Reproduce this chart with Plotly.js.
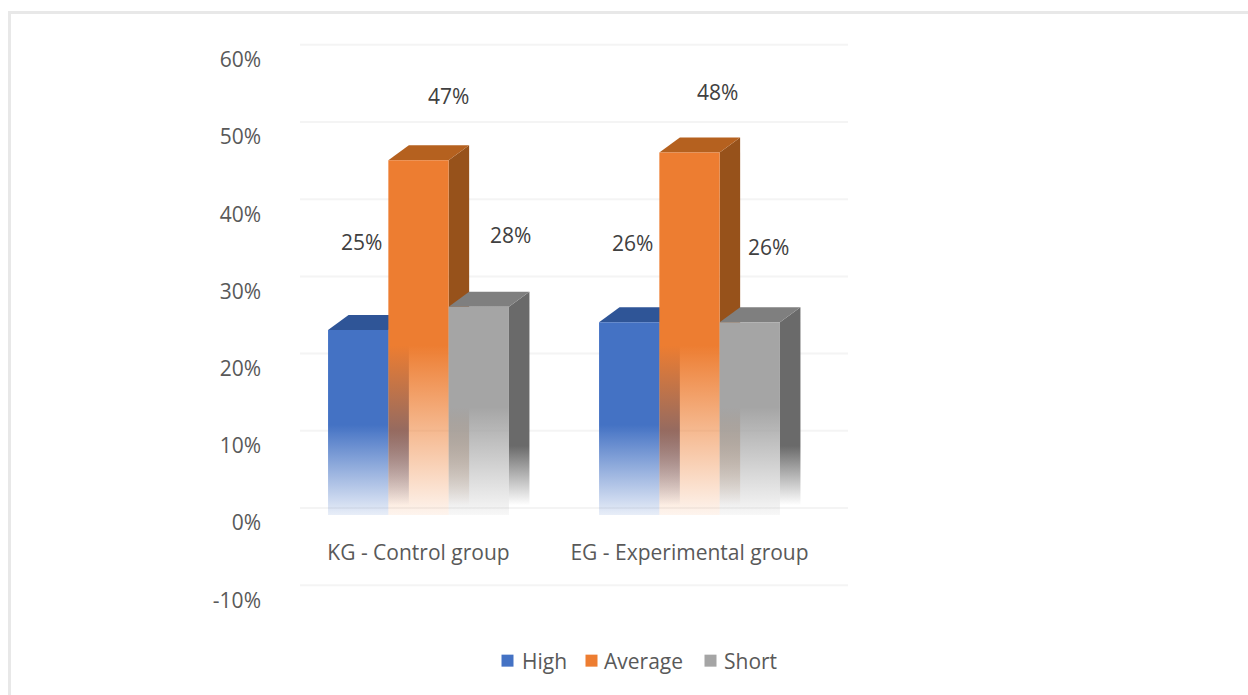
<!DOCTYPE html>
<html><head><meta charset="utf-8">
<script src="https://cdn.plot.ly/plotly-3.0.1.min.js"></script>
<style>
html,body{margin:0;padding:0;background:#fff;width:1248px;height:695px;overflow:hidden}
#frame{position:absolute;left:8px;top:11px;right:-10px;bottom:-10px;border:3px solid #e8e8e8}
#chart{position:absolute;left:0;top:0;width:1248px;height:695px}
</style></head><body>
<div id="frame"></div><div id="chart"></div>
<script>
// ---- data ----
const categories = ['KG - Control group', 'EG - Experimental group'];
const seriesNames = ['High', 'Average', 'Short'];
const high = [25, 26];
const average = [47, 48];
const short = [28, 26];
const yTickVals = [-10, 0, 10, 20, 30, 40, 50, 60];
const yTickText = ['-10%', '0%', '10%', '20%', '30%', '40%', '50%', '60%'];

// ---- styling ----
const values = [high, average, short];
const frontColors = ['#4472C4', '#ED7D31', '#A5A5A5'];
const topColors = ['#2F5597', '#B5611F', '#7F7F7F'];
const sideColors = ['#2F5597', '#97521B', '#6A6A6A'];
// value where the front fades start, and where the fade ends
const fadeStart = [12.7, 23, 15];
const fadeEnd = 1.0, fadeEndAlpha = [0.12, 0.08, 0.08];
const sideFadeStart = [12, 20, 10], sideFadeEnd = 2.3;

// label shifts in px per series, per group
const labelDx = [[3, 30, 32], [3, 28, 19]];
const labelDy = [[88, 64, 72], [79, 60, 75]];

// legend placement in px
const legendTextX = [522, 604, 724];
const legendSwatchX = [507.5, 591.5, 710.5];

// geometry
const W = 1248, H = 695;
const L = 262, R = 860, T = 30, B = 640;
const pxGroup = 271, x0Px = 418.5, pxUnit = 7.72, y0Px = 523;
const xRange = [(L - x0Px) / pxGroup, (R - x0Px) / pxGroup];
const yRange = [(y0Px - B) / pxUnit, (y0Px - T) / pxUnit];
const barW = 60.3 / pxGroup;
const dx = 20.5 / pxGroup, dy = 15 / pxUnit;
const groups = categories.map((c, i) => i);

const traces = seriesNames.map((n, s) => ({
  type: 'bar', name: n, x: groups, y: values[s],
  marker: {color: frontColors[s], line: {width: 0}},
  hoverinfo: 'skip'
}));

const shapes = [];
yTickVals.forEach(v => shapes.push({
  type: 'line', layer: 'below', xref: 'x', yref: 'y',
  x0: (300 - x0Px) / pxGroup, x1: (848 - x0Px) / pxGroup, y0: v + dy, y1: v + dy,
  line: {color: '#f4f4f4', width: 2}
}));
const sideInfo = [];
groups.forEach(g => seriesNames.forEach((n, s) => {
  const v = values[s][g];
  const xl = g + (s - 1.5) * barW, xr = xl + barW;
  shapes.push({type: 'path', layer: 'below', xref: 'x', yref: 'y', line: {width: 0},
    fillcolor: sideColors[s],
    path: `M ${xr} ${v} L ${xr + dx} ${v + dy} L ${xr + dx} ${dy} L ${xr} 0 Z`});
  sideInfo.push({idx: shapes.length - 1, s, v});
  shapes.push({type: 'path', layer: 'below', xref: 'x', yref: 'y', line: {width: 0},
    fillcolor: topColors[s],
    path: `M ${xl} ${v} L ${xl + dx} ${v + dy} L ${xr + dx} ${v + dy} L ${xr} ${v} Z`});
}));

const annotations = [];
groups.forEach(g => seriesNames.forEach((n, s) => {
  annotations.push({
    x: g + (s - 1) * barW, y: values[s][g], xref: 'x', yref: 'y',
    text: values[s][g] + '%', showarrow: false,
    xshift: labelDx[g][s], yshift: labelDy[g][s],
    font: {family: 'Open Sans', size: 21, color: '#404040'}
  });
}));

const layout = {
  width: W, height: H,
  margin: {l: L, r: W - R, t: T, b: H - B, pad: 0},
  paper_bgcolor: 'rgba(0,0,0,0)', plot_bgcolor: 'rgba(0,0,0,0)',
  barmode: 'group', bargap: 1 - 3 * barW, bargroupgap: 0,
  showlegend: true,
  legend: {orientation: 'h', xref: 'paper', yref: 'paper', x: 0.63, xanchor: 'center',
    y: (B - 661) / (B - T), yanchor: 'middle',
    font: {family: 'Open Sans', size: 21, color: '#595959'}, bgcolor: 'rgba(0,0,0,0)', itemclick: false},
  xaxis: {type: 'linear', range: xRange, tickmode: 'array', tickvals: groups, ticktext: categories,
    showgrid: false, zeroline: false, showline: false, ticks: '',
    anchor: 'free', position: (B - 538) / (B - T),
    tickfont: {family: 'Open Sans', size: 21, color: '#595959'}, fixedrange: true},
  yaxis: {range: yRange, tickmode: 'array', tickvals: yTickVals, ticktext: yTickText,
    showgrid: false, zeroline: false, showline: false, ticks: '',
    tickfont: {family: 'Open Sans', size: 21, color: '#595959'}, fixedrange: true},
  shapes, annotations
};

function makeGrad(defs, id, color, stops) {
  const NS = 'http://www.w3.org/2000/svg';
  const g = document.createElementNS(NS, 'linearGradient');
  g.setAttribute('id', id);
  g.setAttribute('x1', '0'); g.setAttribute('y1', '0');
  g.setAttribute('x2', '0'); g.setAttribute('y2', '1');
  stops.forEach(([o, a]) => {
    const st = document.createElementNS(NS, 'stop');
    st.setAttribute('offset', o);
    st.setAttribute('stop-color', color);
    st.setAttribute('stop-opacity', a);
    g.appendChild(st);
  });
  defs.appendChild(g);
}

function nudge(el, ddx) {
  const t = el.getAttribute('transform') || '';
  const m = t.match(/translate\(\s*([-\d.]+)[ ,]*([-\d.]*)\s*\)/);
  const x = m ? +m[1] : 0, y = m && m[2] ? +m[2] : 0;
  el.setAttribute('transform', `translate(${x + ddx},${y})`);
}

function paint(gd) {
  const defs = gd.querySelector('svg.main-svg defs');
  gd.querySelectorAll('.barlayer .trace').forEach((tr, s) => {
    tr.querySelectorAll('.point path').forEach((p, g) => {
      const v = values[s][g], id = `front-${s}-${g}`;
      if (!document.getElementById(id))
        makeGrad(defs, id, frontColors[s], [
          [(v - fadeStart[s]) / v, 1],
          [(v - fadeEnd) / v, fadeEndAlpha[s]],
          [(v - fadeEnd) / v, 0],
          [1, 0]]);
      p.style.fill = `url(#${id})`;
      p.style.fillOpacity = 1;
    });
  });
  const paths = gd.querySelectorAll('.shapelayer path');
  sideInfo.forEach((info, i) => {
    const p = [...paths].find(e => +e.getAttribute('data-index') === info.idx);
    if (!p) return;
    const tot = info.v + dy, id = `side-${i}`;
    if (!document.getElementById(id))
      makeGrad(defs, id, sideColors[info.s], [
        [(tot - sideFadeStart[info.s]) / tot, 1],
        [(tot - sideFadeEnd) / tot, 0],
        [1, 0]]);
    p.style.fill = `url(#${id})`;
    p.style.fillOpacity = 1;
  });
  // tighten the legend to the reference's spacing
  const scroll = gd.querySelector('.legend .scrollbox');
  if (scroll) scroll.removeAttribute('clip-path');
  gd.querySelectorAll('.legend .traces').forEach((item, i) => {
    const text = item.querySelector('text');
    nudge(item, legendTextX[i] - text.getBoundingClientRect().left);
    const sym = item.querySelector('.legendsymbols');
    const r = sym.getBoundingClientRect();
    nudge(sym, legendSwatchX[i] - (r.left + r.right) / 2);
  });
}

const gd = document.getElementById('chart');
Plotly.newPlot(gd, traces, layout, {displayModeBar: false, staticPlot: true}).then(() => {
  paint(gd);
  gd.on('plotly_afterplot', () => paint(gd));
});
</script></body></html>
